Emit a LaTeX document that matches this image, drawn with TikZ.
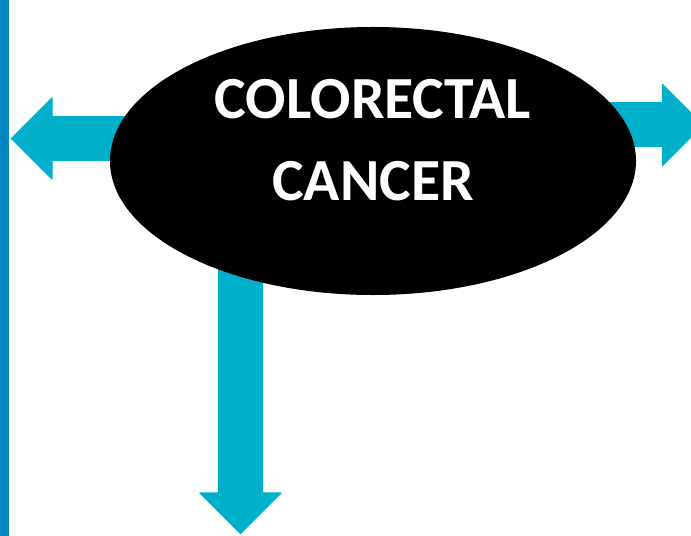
\documentclass[tikz,border=0pt]{standalone}
\usepackage{fontspec}
\setmainfont{Carlito}
\usetikzlibrary{arrows.meta,shapes.geometric,backgrounds}

\definecolor{arrowcyan}{RGB}{0,176,202}
\definecolor{barblue}{RGB}{0,135,193}

\tikzset{
  bigarrow/.style={draw=arrowcyan, line width=1.35cm,
    -{Triangle[length=1.26cm, width=2.52cm, line width=1.2pt, round, color=arrowcyan]}},
  blob/.style={ellipse, fill=black, inner sep=0pt,
    minimum width=15.78cm, minimum height=8.04cm},
  blobtext/.style={text=white, align=center,
    font=\bfseries\fontsize{51}{70}\selectfont}
}

\begin{document}
\begin{tikzpicture}[x=0.03cm, y=-0.03cm]
  \useasboundingbox (0,0) rectangle (691,536);

  % Randleiste
  \fill[barblue] (0,0) rectangle (9,536);

  % Ellipse mit Text
  \node[blob] (cancer) at (373,161) {};
  \node[blobtext] (cancertext) at (373,140) {COLORECTAL\\CANCER};

  % Pfeilspitzen
  \coordinate (lefttip) at (11,138.5);
  \coordinate (righttip) at (703.5,125);
  \coordinate (downtip) at (240.5,534);

  % Pfeile hinter der Ellipse
  \begin{scope}[on background layer]
    \fill[white] (0,0) rectangle (691,536);
    \draw[bigarrow] (cancer.center |- lefttip) -- (lefttip);
    \draw[bigarrow] (cancer.center |- righttip) -- (righttip);
    \draw[bigarrow] (downtip |- cancer.center) -- (downtip);
  \end{scope}
\end{tikzpicture}
\end{document}
